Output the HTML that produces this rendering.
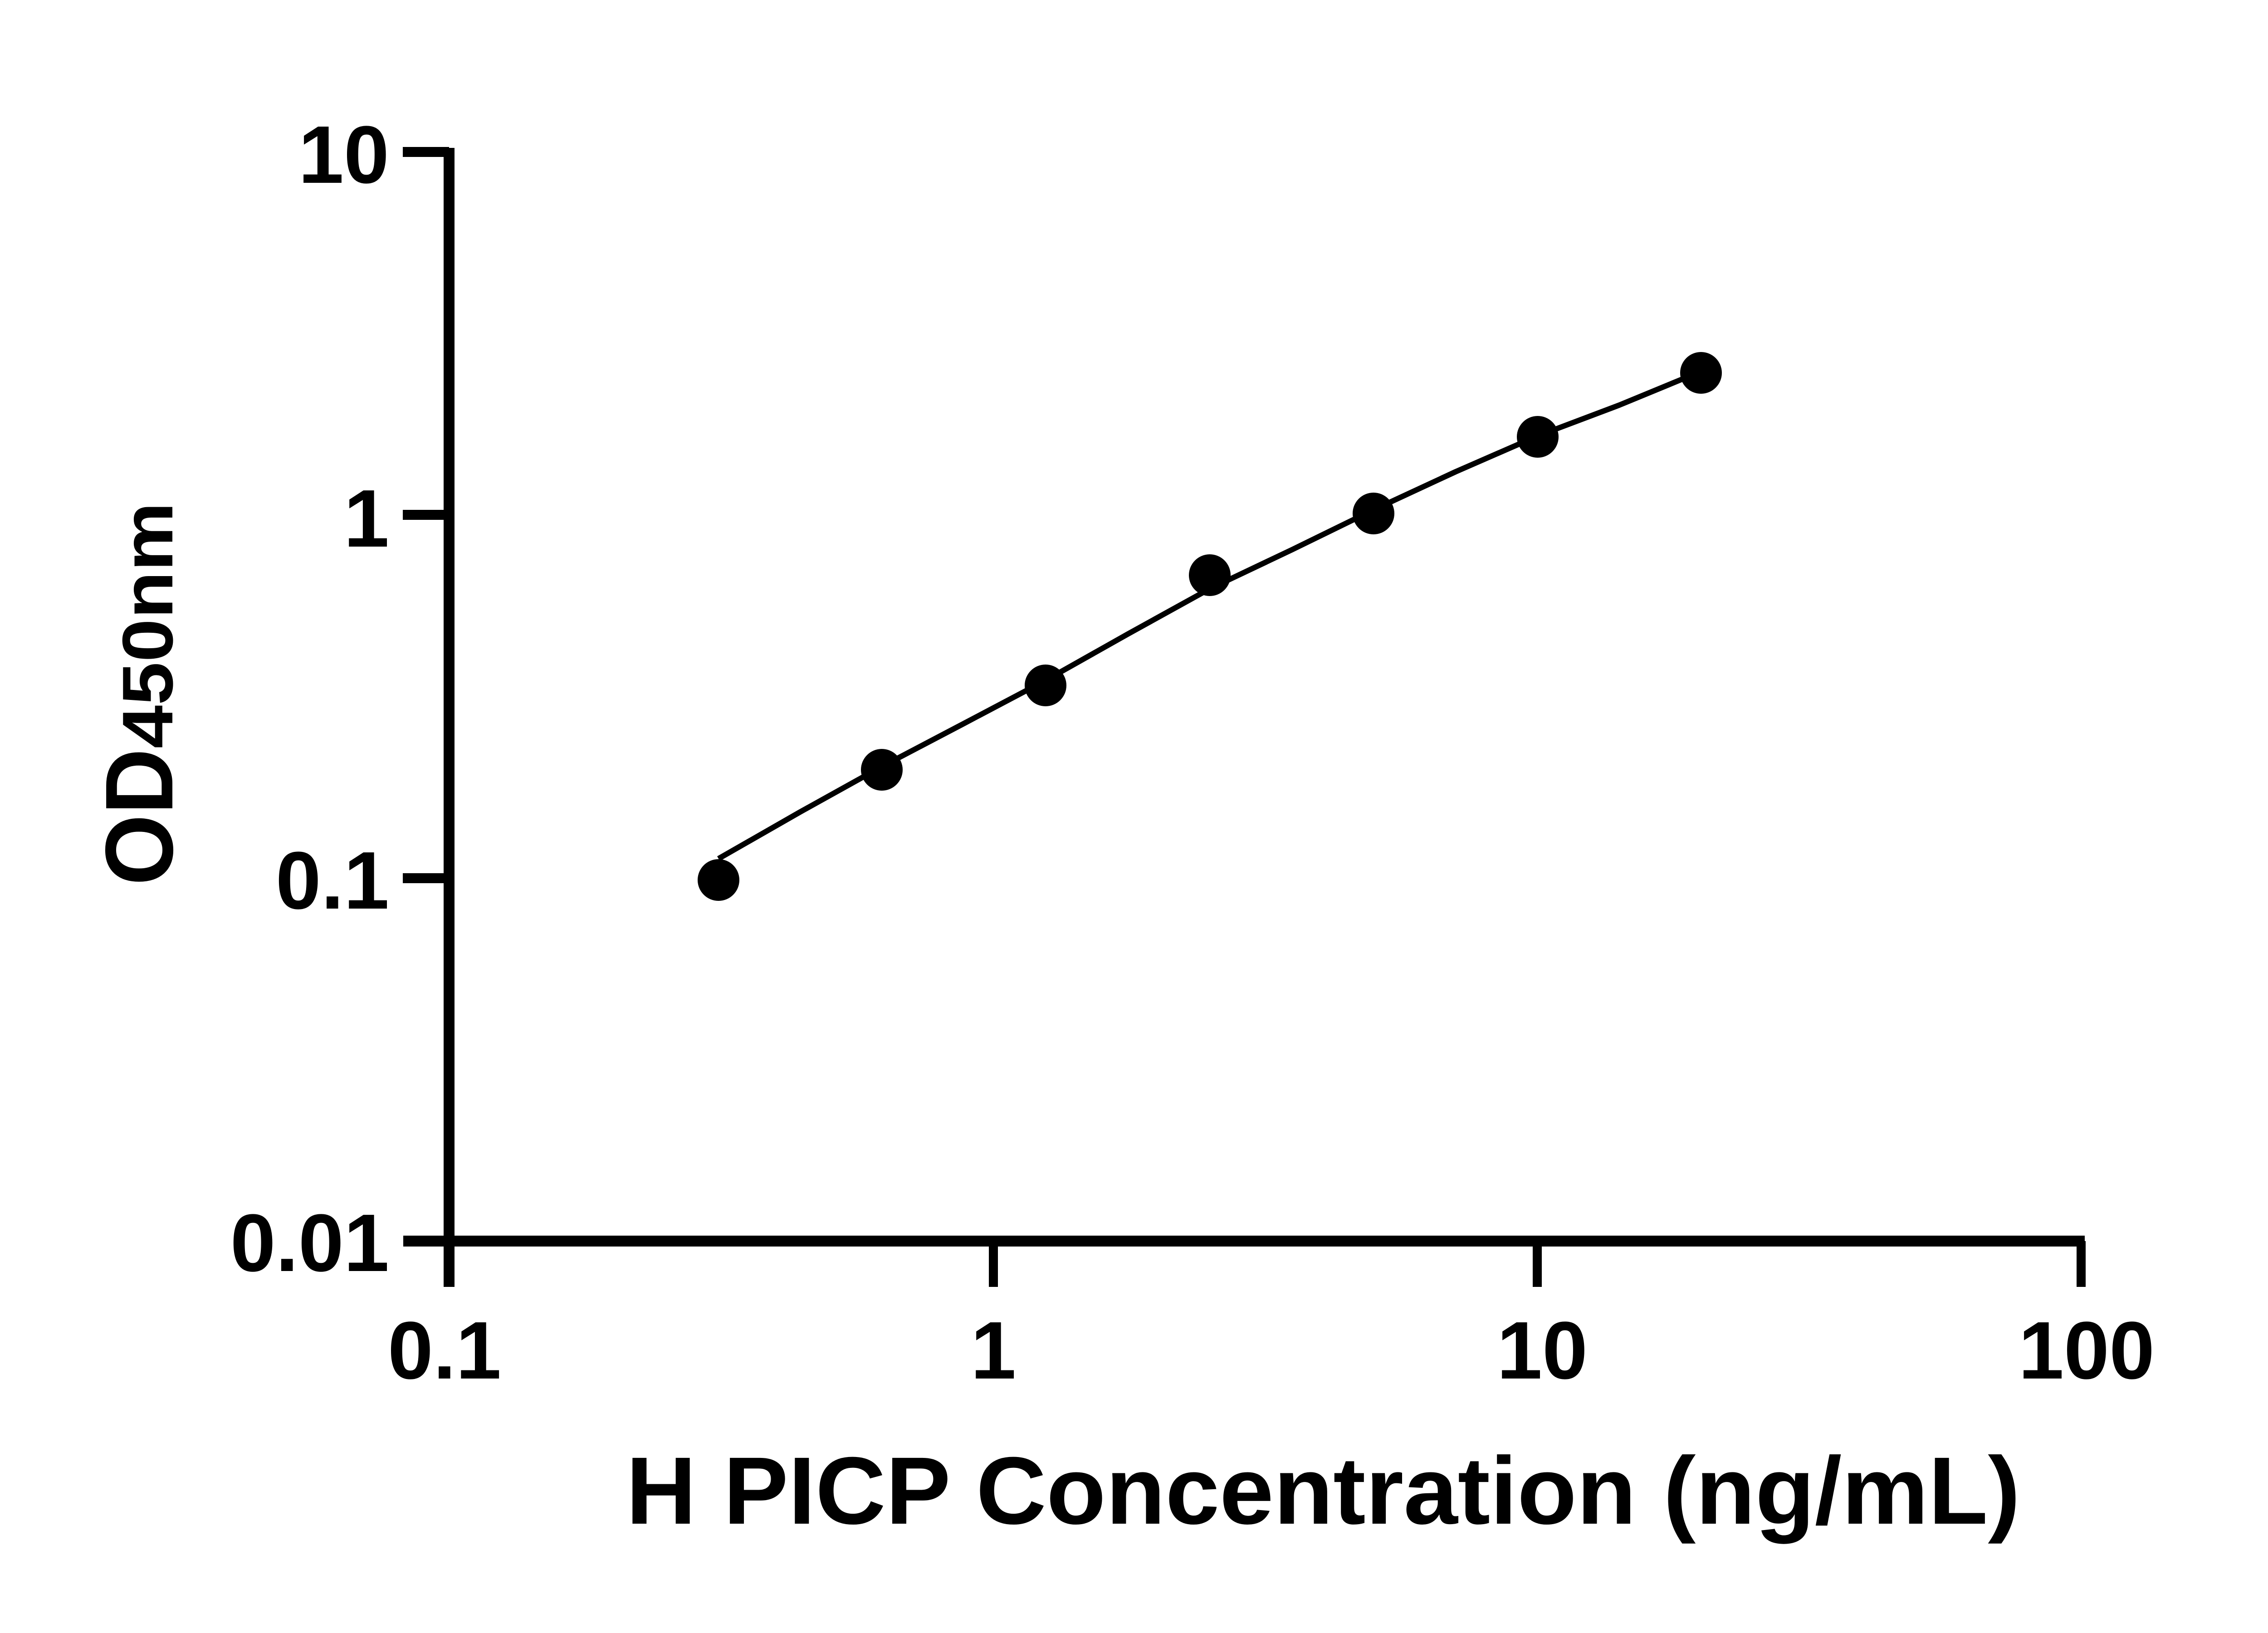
<!DOCTYPE html>
<html><head><meta charset="utf-8"><style>html,body{margin:0;padding:0;background:#fff;}svg{display:block}</style></head>
<body>
<svg width="5142" height="3600" viewBox="0 0 5142 3600" xmlns="http://www.w3.org/2000/svg">
<rect width="5142" height="3600" fill="#fff"/>
<g stroke="#000" fill="none" stroke-linecap="butt">
<line x1="990" y1="326" x2="990" y2="2837" stroke-width="24"/>
<line x1="889" y1="2736" x2="4596" y2="2736" stroke-width="24"/>
<line x1="888" y1="335" x2="990" y2="335" stroke-width="22"/>
<line x1="888" y1="1135" x2="990" y2="1135" stroke-width="22"/>
<line x1="888" y1="1936" x2="990" y2="1936" stroke-width="22"/>
<line x1="2190" y1="2736" x2="2190" y2="2837" stroke-width="20"/>
<line x1="3389" y1="2736" x2="3389" y2="2837" stroke-width="20"/>
<line x1="4588" y1="2736" x2="4588" y2="2837" stroke-width="20"/>
<polyline points="1584,1893 1764,1790 1944,1690 2125,1595 2305,1500 2486,1398 2667,1298 2848,1212 3028,1124 3209,1040 3390,961 3570,893 3713,834" stroke-width="12" stroke-linejoin="round"/>
</g>
<g fill="#000">
<circle cx="1584" cy="1940" r="46"/>
<circle cx="1944" cy="1697" r="46"/>
<circle cx="2305" cy="1511" r="46"/>
<circle cx="2667" cy="1268" r="46"/>
<circle cx="3028" cy="1132" r="46"/>
<circle cx="3390" cy="963" r="46"/>
<circle cx="3750" cy="822" r="46"/>
</g>
<g font-family="Liberation Sans, sans-serif" font-weight="bold" font-size="180" fill="#000" text-anchor="end">
<text x="858" y="403">10</text>
<text x="858" y="1205">1</text>
<text x="858" y="2003">0.1</text>
<text x="858" y="2802">0.01</text>
</g>
<g font-family="Liberation Sans, sans-serif" font-weight="bold" font-size="180" fill="#000" text-anchor="middle">
<text x="980" y="3039">0.1</text>
<text x="2190" y="3039">1</text>
<text x="3400" y="3039">10</text>
<text x="4600" y="3039">100</text>
</g>
<text x="1380" y="3359" font-family="Liberation Sans, sans-serif" font-weight="bold" font-size="211" textLength="3074" lengthAdjust="spacingAndGlyphs">H PICP Concentration (ng/mL)</text>
<text transform="translate(380,1952) rotate(-90)" font-family="Liberation Sans, sans-serif" font-weight="bold" fill="#000"><tspan font-size="212" textLength="302" lengthAdjust="spacingAndGlyphs">OD</tspan><tspan font-size="158" textLength="543" lengthAdjust="spacingAndGlyphs">450nm</tspan></text>
</svg>
</body></html>
